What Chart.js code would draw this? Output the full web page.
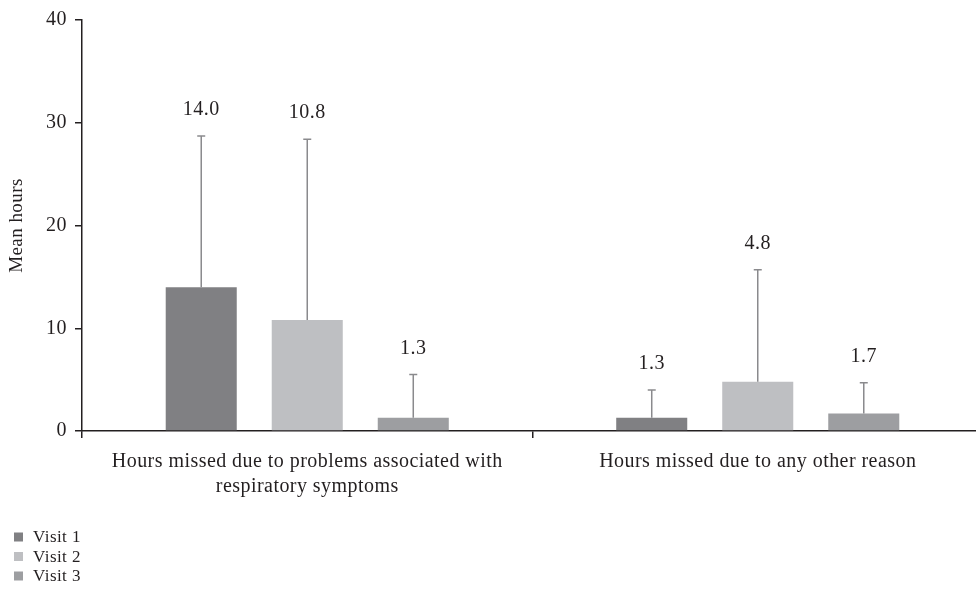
<!DOCTYPE html>
<html>
<head>
<meta charset="utf-8">
<script src="https://cdn.jsdelivr.net/npm/chart.js@4.4.1/dist/chart.umd.min.js"></script>
<style>
  html, body { margin: 0; padding: 0; background: #fff; overflow: hidden; }
  #wrap { width: 976px; height: 593px; overflow: hidden; position: relative; }
  canvas { display: block; }
</style>
</head>
<body>
<div id="wrap"><canvas id="c" width="990" height="593"></canvas></div>
<script>
// Mean hours missed per visit, with standard deviation (upper whisker only)
const categories = [
  ["Hours missed due to problems associated with", "respiratory symptoms"],
  "Hours missed due to any other reason"
];
const seriesNames = ["Visit 1", "Visit 2", "Visit 3"];
const visit1Mean = [14.0, 1.3];
const visit2Mean = [10.8, 4.8];
const visit3Mean = [1.3, 1.7];
const visit1SD = [14.7, 2.7];
const visit2SD = [17.6, 10.9];
const visit3SD = [4.2, 3.0];
const yTicks = [0, 10, 20, 30, 40];

const colors = ["#808083", "#bebfc2", "#9d9ea1"];
const serif = "'Liberation Serif', 'DejaVu Serif', serif";
const inkColor = "#231f20";

const means = [visit1Mean, visit2Mean, visit3Mean];
const sds = [visit1SD, visit2SD, visit3SD];

// slightly open letter spacing for all chart text
const spacing = {
  id: "spacing",
  beforeDraw(chart) { chart.ctx.letterSpacing = "0.45px"; }
};

const errorBars = {
  id: "errorBars",
  afterDatasetsDraw(chart) {
    const ctx = chart.ctx;
    const y = chart.scales.y;
    chart.data.datasets.forEach((ds, di) => {
      const meta = chart.getDatasetMeta(di);
      meta.data.forEach((bar, i) => {
        const top = y.getPixelForValue(ds.data[i] + ds.sd[i]);
        const base = bar.y;
        ctx.save();
        ctx.strokeStyle = "#8a8a8d";
        ctx.lineWidth = 1.5;
        ctx.beginPath();
        ctx.moveTo(bar.x, base);
        ctx.lineTo(bar.x, top);
        ctx.moveTo(bar.x - 4, top);
        ctx.lineTo(bar.x + 4, top);
        ctx.stroke();
        // mean value written above the whisker
        ctx.fillStyle = inkColor;
        ctx.font = "20px " + serif;
        ctx.textAlign = "center";
        ctx.textBaseline = "middle";
        ctx.fillText(ds.data[i].toFixed(1), bar.x, top - 26);
        ctx.restore();
      });
    });
  }
};

const sideLegend = {
  id: "sideLegend",
  afterDraw(chart) {
    const ctx = chart.ctx;
    ctx.save();
    ctx.font = "17px " + serif;
    ctx.textBaseline = "middle";
    ctx.textAlign = "left";
    chart.data.datasets.forEach((ds, i) => {
      const cy = 537 + i * 19.5;
      ctx.fillStyle = ds.backgroundColor;
      ctx.fillRect(14, cy - 4.5, 9, 9);
      ctx.fillStyle = inkColor;
      ctx.fillText(ds.label, 33, cy + 1);
    });
    ctx.restore();
  }
};

new Chart(document.getElementById("c"), {
  type: "bar",
  data: {
    labels: categories,
    datasets: seriesNames.map((name, i) => ({
      label: name,
      data: means[i],
      sd: sds[i],
      backgroundColor: colors[i],
      borderWidth: 0,
      categoryPercentage: 0.706,
      barPercentage: 0.67
    }))
  },
  options: {
    responsive: false,
    animation: false,
    layout: { padding: { top: 20, right: 7, left: 0, bottom: 0 } },
    plugins: { legend: { display: false }, tooltip: { enabled: false } },
    scales: {
      x: {
        afterFit(s) { s.height = 162; },
        grid: {
          display: true,
          drawOnChartArea: false,
          drawTicks: true,
          tickLength: 7,
          color: inkColor,
          lineWidth: 1.5
        },
        border: { display: true, color: inkColor, width: 1.5 },
        ticks: {
          color: inkColor,
          font: { family: serif, size: 20, lineHeight: 1.25 },
          padding: 11,
          maxRotation: 0,
          autoSkip: false
        }
      },
      y: {
        min: 0,
        max: 40,
        afterFit(s) { s.width = 82; },
        afterBuildTicks(s) { s.ticks = yTicks.map(v => ({ value: v })); },
        grid: {
          display: true,
          drawOnChartArea: false,
          drawTicks: true,
          tickLength: 7,
          color: inkColor,
          lineWidth: 1.5
        },
        border: { display: true, color: inkColor, width: 1.5 },
        ticks: {
          color: inkColor,
          font: { family: serif, size: 20 },
          padding: 8
        },
        title: {
          display: true,
          text: "Mean hours",
          color: inkColor,
          font: { family: serif, size: 19 },
          padding: { top: 6, bottom: 0 }
        }
      }
    }
  },
  plugins: [spacing, errorBars, sideLegend]
});
</script>
</body>
</html>
